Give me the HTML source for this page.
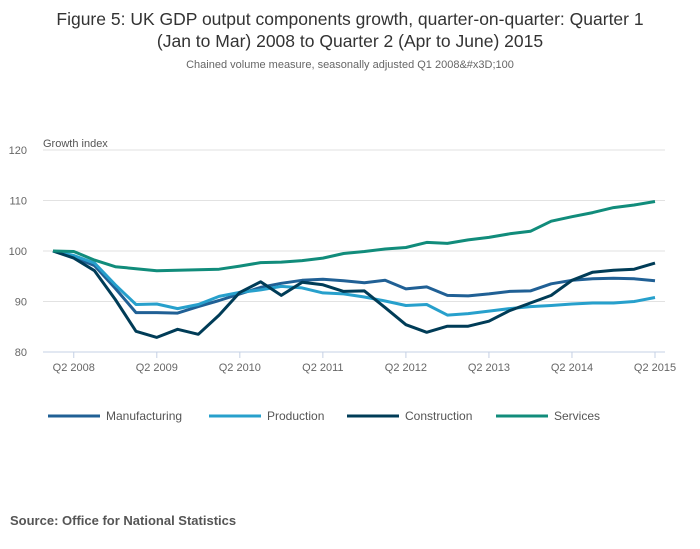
<!DOCTYPE html>
<html><head><meta charset="utf-8"><style>
body{margin:0;background:#fff;font-family:"Liberation Sans",sans-serif;}
#wrap{position:relative;width:700px;height:549px;overflow:hidden;}
</style></head><body>
<div id="wrap">
<svg id="chart" width="700" height="549">
<text x="350" y="25" text-anchor="middle" font-size="17.5" fill="#333">Figure 5: UK GDP output components growth, quarter-on-quarter: Quarter 1</text>
<text x="350" y="47" text-anchor="middle" font-size="17.5" fill="#333">(Jan to Mar) 2008 to Quarter 2 (Apr to June) 2015</text>
<text x="350" y="68" text-anchor="middle" font-size="11" fill="#666">Chained volume measure, seasonally adjusted Q1 2008&amp;#x3D;100</text>
<text x="43" y="147" font-size="11" fill="#555">Growth index</text>
<text x="10" y="525" font-size="13" font-weight="bold" fill="#555">Source: Office for National Statistics</text>
<g id="grid"></g><g id="xaxis"></g><g id="lines"></g><g id="legend"></g>
</svg>
</div>
<script>
const categoriesCount = 30;
const yTicks = [80, 90, 100, 110, 120];
const xTickLabels = ["Q2 2008","Q2 2009","Q2 2010","Q2 2011","Q2 2012","Q2 2013","Q2 2014","Q2 2015"];
const xTickIndex = [1, 5, 9, 13, 17, 21, 25, 29];
const seriesNames = ["Manufacturing","Production","Construction","Services"];
const seriesColors = ["#206095","#27a0cc","#003c57","#118c7b"];
const manufacturing = [100,98.8,97.1,92.6,87.8,87.8,87.7,89.0,90.2,91.5,92.8,93.6,94.2,94.4,94.1,93.7,94.2,92.5,92.9,91.2,91.1,91.5,92.0,92.1,93.5,94.2,94.5,94.6,94.5,94.1];
const production = [100,99.1,97.6,93.3,89.4,89.5,88.6,89.4,91.0,91.8,92.3,93.0,92.7,91.7,91.5,90.9,90.1,89.2,89.4,87.3,87.6,88.1,88.6,89.0,89.2,89.5,89.7,89.7,90.0,90.8];
const construction = [100,98.6,96.1,90.4,84.1,82.9,84.5,83.5,87.3,91.8,93.9,91.2,93.8,93.3,92.0,92.1,88.8,85.4,83.9,85.1,85.1,86.1,88.2,89.7,91.2,94.2,95.8,96.2,96.4,97.6];
const services = [100,99.9,98.2,96.9,96.5,96.1,96.2,96.3,96.4,97.0,97.7,97.8,98.1,98.6,99.5,99.9,100.4,100.7,101.7,101.5,102.2,102.7,103.4,103.9,105.9,106.8,107.6,108.6,109.1,109.8];
const allSeries = [manufacturing, production, construction, services];

const NS = "http://www.w3.org/2000/svg";
const x0 = 53, x1 = 655, yTop = 150, yBot = 352, yMin = 80, yMax = 120;
function xScale(i){ return x0 + i*(x1-x0)/(categoriesCount-1); }
function yScale(v){ return yBot - (v-yMin)*(yBot-yTop)/(yMax-yMin); }
function mk(tag, attrs, parent){ const e=document.createElementNS(NS,tag); for(const k in attrs) e.setAttribute(k,attrs[k]); parent.appendChild(e); return e; }

const grid = document.getElementById('grid');
yTicks.forEach(t=>{
  if(t!==yMin){
    const l = mk('line',{x1:43,x2:665,y1:yScale(t),y2:yScale(t),stroke:'#e2e2e2','stroke-width':1},grid);
    
    
  }
  const tx = mk('text',{x:27,y:yScale(t)+4,'text-anchor':'end','font-size':11,fill:'#666'},grid);
  tx.textContent = t;
  
  
});
const xa = document.getElementById('xaxis');
const base = mk('line',{x1:43,x2:665,y1:yBot,y2:yBot,stroke:'#c4d0e4','stroke-width':1},xa);


xTickLabels.forEach((lab,k)=>{
  const x = xScale(xTickIndex[k]);
  const tk = mk('line',{x1:x,x2:x,y1:yBot,y2:yBot+6,stroke:'#c4d0e4'},xa);
  
  
  const tx = mk('text',{x:x,y:371,'text-anchor':'middle','font-size':11,fill:'#666'},xa);
  tx.textContent = lab;
  
  
});
const lg = document.getElementById('lines');
allSeries.forEach((s,si)=>{
  const d = s.map((v,i)=>(i?'L':'M')+xScale(i).toFixed(1)+','+yScale(v).toFixed(1)).join(' ');
  const p = mk('path',{d:d,fill:'none',stroke:seriesColors[si],'stroke-width':3,'stroke-linejoin':'round'},lg);
  
  
});
const leg = document.getElementById('legend');
const legX = [48,209,347,496];
seriesNames.forEach((n,i)=>{
  const g = mk('g',{},leg);
  
  
  mk('line',{x1:legX[i],x2:legX[i]+52,y1:416,y2:416,stroke:seriesColors[i],'stroke-width':3},g);
  const t = mk('text',{x:legX[i]+58,y:420,'font-size':12,fill:'#555'},g);
  t.textContent = n;
});
</script>
</body></html>
